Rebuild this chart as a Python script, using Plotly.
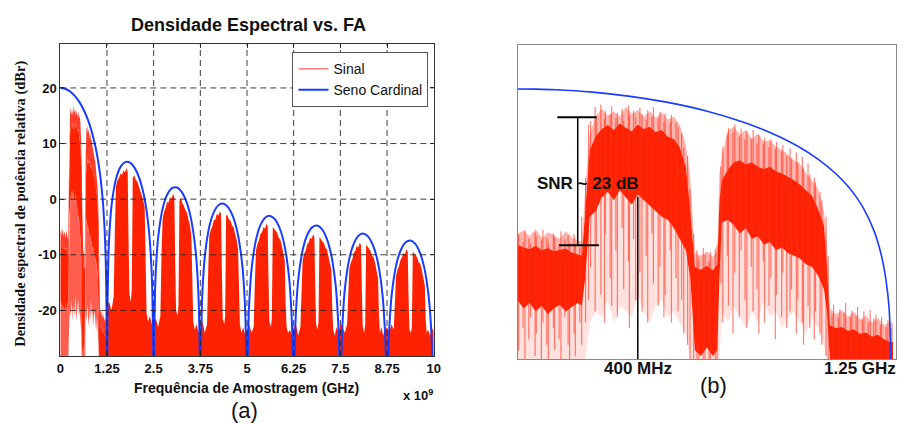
import plotly.graph_objects as go

# ---------------- DATA ----------------
# Zona 0 (0 - 1.25 GHz) of "Sinal", in dBr: envelope of spikes and dense core
zona0_freq_ghz = [0.00, 0.02, 0.04, 0.06, 0.08, 0.10, 0.12, 0.14, 0.16, 0.18, 0.20, 0.214,
                  0.225, 0.24,
                  0.26, 0.28, 0.30, 0.32, 0.34, 0.36, 0.38, 0.40, 0.42, 0.44, 0.46, 0.48, 0.50, 0.52, 0.54, 0.56,
                  0.575,
                  0.59, 0.61, 0.63, 0.65, 0.665,
                  0.672,
                  0.68, 0.70, 0.72, 0.74, 0.76, 0.78, 0.80, 0.82, 0.84, 0.86, 0.88, 0.90, 0.92, 0.94, 0.96, 0.98, 1.00, 1.02,
                  1.03,
                  1.04, 1.06, 1.08, 1.10, 1.12, 1.14, 1.16, 1.18, 1.20, 1.22, 1.24, 1.25]
zona0_pico_db = [-6.0, -5.5, -6.5, -5.2, -6.8, -5.8, -6.2, -7.0, -5.6, -6.6, -7.2, -7.5,
                 2.0, 12.0,
                 15.0, 16.5, 15.2, 16.0, 15.0, 16.8, 15.5, 16.2, 15.0, 16.0, 14.8, 15.8, 14.5, 15.0, 13.5, 10.0,
                 4.0,
                 -9.5, -10.0, -9.2, -10.2, -9.0,
                 5.0,
                 8.0, 12.5, 13.2, 11.8, 12.6, 11.0, 12.0, 10.5, 10.8, 9.6, 9.0, 8.2, 7.2, 6.5, 4.8, 3.6, 2.0, -2.0,
                 -8.0,
                 -19.5, -20.5, -19.8, -21.0, -20.0, -21.5, -20.8, -22.0, -21.2, -22.5, -22.0, -22.0]
zona0_nucleo_topo_db = [-8.0, -8.5, -8.8, -8.2, -9.0, -8.6, -9.2, -9.0, -8.7, -9.4, -9.8, -10.0,
                        -2.0, 9.0,
                        11.5, 12.8, 13.5, 12.6, 13.8, 13.0, 12.4, 13.6, 12.8, 13.2, 12.2, 12.6, 11.4, 11.0, 9.5, 6.0,
                        -2.0,
                        -12.0, -12.5, -11.8, -12.6, -11.5,
                        0.0,
                        3.5, 5.5, 6.8, 7.2, 6.4, 6.8, 6.0, 5.6, 6.0, 5.2, 4.8, 4.2, 3.6, 2.8, 1.8, 0.8, -1.5, -4.5,
                        -12.0,
                        -22.5, -23.0, -22.8, -23.5, -23.2, -24.0, -23.8, -24.5, -24.2, -25.0, -25.5, -25.5]
zona0_nucleo_base_db = [-18.0, -19.5, -18.5, -20.0, -19.0, -20.5, -19.5, -18.8, -20.0, -19.2, -18.5, -19.0,
                        -14.0, -3.0,
                        -2.0, 0.5, 1.5, 0.0, 1.8, 0.5, -0.8, 1.0, 0.0, -1.0, -2.0, -3.0, -3.5, -5.0, -7.0, -9.0,
                        -14.0,
                        -27.0, -28.0, -26.5, -28.0, -27.0,
                        -14.0,
                        -4.0, -3.5, -4.5, -6.0, -5.0, -7.0, -6.5, -8.0, -7.5, -9.0, -8.5, -9.5, -10.0, -10.5, -11.5, -12.0, -13.5, -16.0,
                        -20.0,
                        -29.0, -29.0, -29.0, -29.0, -29.0, -29.0, -29.0, -29.0, -29.0, -29.0, -29.0, -29.0]
zona0_vale_db = [-29.0, -29.0, -29.0, -29.0, -29.0, -29.0, -29.0, -29.0, -29.0, -29.0, -29.0, -29.0,
                 -29.0, -22.0,
                 -20.0, -21.0, -18.0, -22.0, -19.0, -20.0, -21.0, -17.0, -20.0, -22.0, -19.0, -18.0, -21.0, -20.0, -22.0, -24.0,
                 -29.0,
                 -29.0, -29.0, -29.0, -29.0, -29.0,
                 -29.0,
                 -20.0, -22.0, -19.0, -21.0, -23.0, -20.0, -22.0, -18.0, -21.0, -20.0, -23.0, -21.0, -20.0, -22.0, -24.0, -21.0, -23.0, -26.0,
                 -29.0,
                 -29.0, -29.0, -29.0, -29.0, -29.0, -29.0, -29.0, -29.0, -29.0, -29.0, -29.0, -29.0]

# Individual spikes of the zone-0 signal (panel b): frequency, spike top, spike bottom
espiculas_freq_ghz = [
    0.003, 0.018, 0.024, 0.037, 0.043, 0.058, 0.062, 0.079, 0.084, 0.097,
    0.102, 0.119, 0.123, 0.138, 0.144, 0.157, 0.168, 0.173, 0.188, 0.192,
    0.207, 0.213, 0.226, 0.236, 0.243, 0.258, 0.262, 0.277, 0.289, 0.292,
    0.308, 0.313, 0.327, 0.332, 0.348, 0.353, 0.369, 0.372, 0.386, 0.393,
    0.407, 0.414, 0.428, 0.433, 0.447, 0.452, 0.468, 0.474, 0.487, 0.491,
    0.508, 0.512, 0.527, 0.534, 0.546, 0.553, 0.566, 0.574, 0.586, 0.597,
    0.603, 0.618, 0.624, 0.637, 0.642, 0.658, 0.664, 0.677, 0.683, 0.698,
    0.702, 0.717, 0.723, 0.738, 0.744, 0.757, 0.763, 0.778, 0.784, 0.797,
    0.803, 0.818, 0.822, 0.837, 0.843, 0.858, 0.862, 0.879, 0.883, 0.896,
    0.907, 0.912, 0.928, 0.933, 0.948, 0.952, 0.967, 0.973, 0.988, 0.992,
    1.007, 1.013, 1.027, 1.034, 1.047, 1.052, 1.068, 1.073, 1.087, 1.092,
    1.108, 1.113, 1.127, 1.132, 1.148, 1.153, 1.167, 1.174, 1.186, 1.193,
    1.208, 1.212, 1.227, 1.233, 1.244]
espiculas_max_db = [
    -6.2, -7.5, -5.4, -6.9, -7.8, -5.8, -6.5, -7.2, -5.3, -6.8,
    -7.6, -6.0, -6.6, -7.9, -5.6, -7.0, -6.3, -7.7, -6.1, -8.0,
    -8.5, -3.0, 4.0, 13.5, 14.2, 16.8, 15.1, 17.2, 14.6, 16.0,
    15.4, 16.9, 14.8, 15.7, 16.4, 14.3, 17.0, 15.2, 16.1, 14.9,
    16.6, 15.5, 14.4, 16.2, 15.0, 16.7, 14.7, 15.9, 14.1, 15.6,
    13.9, 15.3, 14.0, 13.2, 12.0, 9.5, 8.0, 2.0, -6.0, -9.0,
    -10.5, -8.6, -9.8, -10.9, -9.3, -8.8, -8.0, 6.0, 9.5, 11.8,
    13.0, 12.2, 13.6, 11.4, 12.9, 10.8, 12.4, 11.0, 12.6, 10.2,
    11.7, 10.0, 11.2, 9.6, 10.9, 9.2, 10.4, 8.8, 9.9, 8.0,
    9.3, 7.4, 8.6, 6.8, 7.8, 5.9, 6.6, 4.6, 4.0, 3.2,
    1.5, 0.0, -3.0, -10.0, -20.5, -18.8, -21.2, -19.6, -20.2, -18.5,
    -21.0, -19.9, -20.8, -19.2, -21.5, -20.0, -22.0, -19.8, -21.3, -20.6,
    -22.4, -21.0, -22.8, -21.6, -23.0]
espiculas_min_db = [
    -27, -23, -29, -25, -21, -28, -24, -29, -22, -26,
    -29, -23, -27, -25, -29, -21, -26, -29, -24, -28,
    -22, -26, -22, -18, -12, -20, -8, -17, -22, -6,
    -14, -19, -9, -21, -5, -16, -11, -23, -7, -18,
    -13, -20, -10, -22, -6, -15, -19, -12, -21, -17,
    -9, -22, -14, -20, -18, -24, -26, -29, -29, -29,
    -29, -29, -29, -29, -29, -29, -29, -15, -22, -10,
    -19, -24, -13, -21, -9, -18, -23, -12, -20, -16,
    -24, -11, -22, -19, -14, -25, -17, -21, -13, -23,
    -20, -16, -24, -18, -22, -26, -19, -23, -25, -20,
    -24, -26, -28, -29, -29, -29, -29, -29, -29, -29,
    -29, -29, -29, -29, -29, -29, -29, -29, -29, -29,
    -29, -29, -29, -29, -29]

# Upper envelope of "Sinal" in Nyquist zones 1..7 (offsets in GHz from the zone start)
sinal_offsets_ghz = [0.0, 0.06, 0.12, 0.18, 0.21, 0.24, 0.28, 0.32, 0.36, 0.40, 0.44, 0.48, 0.52, 0.555,
                     0.575, 0.60, 0.64, 0.665, 0.69, 0.73, 0.77, 0.81, 0.85, 0.89, 0.93, 0.97, 1.01,
                     1.035, 1.06, 1.10, 1.15, 1.20]
sinal_lobo1_db = [-19.0, -18.5, -20.0, -17.5, -6.0, 2.3, 3.4, 3.8, 4.6, 4.3, 5.2, 4.8, 5.6, 4.9,
                  -6.0, -17.0, -18.5, -16.0, 3.8, 4.3, 3.5, 3.2, 2.4, 1.6, 0.8, -0.2, -1.5,
                  -12.0, -20.5, -22.0, -21.0, -22.5]
sinal_lobo2_db = [-22.0, -21.5, -23.0, -21.0, -10.0, -3.5, -2.2, -1.6, -0.5, -0.6, 0.4, 0.0, 1.0, 0.3,
                  -10.0, -20.0, -21.0, -19.0, -0.2, 0.3, -0.8, -1.2, -2.0, -2.4, -3.6, -4.6, -6.5,
                  -16.0, -22.0, -23.5, -22.5, -24.0]
sinal_lobo3_db = [-23.0, -22.0, -24.0, -22.5, -13.0, -6.6, -5.5, -4.9, -3.8, -3.7, -2.6, -3.0, -2.2, -2.6,
                  -12.0, -21.5, -22.5, -21.0, -2.8, -3.0, -3.7, -3.9, -4.8, -5.0, -6.2, -7.3, -9.0,
                  -18.0, -22.5, -24.0, -23.0, -24.5]
sinal_lobo4_db = [-23.5, -22.5, -24.0, -23.0, -15.0, -9.2, -8.0, -7.4, -6.2, -6.0, -5.0, -5.3, -4.4, -4.9,
                  -14.0, -22.0, -23.0, -21.5, -5.0, -5.3, -5.8, -6.1, -7.0, -7.2, -8.3, -9.4, -11.0,
                  -19.0, -23.0, -24.0, -23.5, -24.5]
sinal_lobo5_db = [-23.0, -22.5, -24.5, -23.0, -16.0, -11.0, -9.8, -9.3, -8.1, -7.8, -6.9, -7.2, -6.3, -6.8,
                  -15.0, -22.5, -23.5, -22.0, -6.8, -7.1, -7.6, -7.9, -8.8, -9.0, -10.1, -11.2, -12.8,
                  -20.0, -23.5, -24.5, -23.0, -24.0]
sinal_lobo6_db = [-22.5, -23.0, -24.0, -22.5, -17.0, -12.5, -11.4, -10.8, -9.6, -9.3, -8.4, -8.7, -7.8, -8.3,
                  -16.0, -23.0, -24.0, -22.5, -8.2, -8.5, -9.0, -9.3, -10.2, -10.4, -11.5, -12.6, -14.2,
                  -21.0, -24.0, -23.0, -24.5, -23.5]
sinal_lobo7_db = [-23.0, -24.0, -22.5, -23.5, -18.0, -13.8, -12.7, -12.0, -10.9, -10.5, -9.7, -9.9, -9.0, -9.5,
                  -17.0, -23.5, -24.0, -23.0, -9.4, -9.7, -10.2, -10.5, -11.4, -11.6, -12.7, -13.8, -15.4,
                  -21.5, -24.0, -23.5, -24.5, -23.0]
sinal_fim_db = -24.0

# "Seno Cardinal" curve (dBr): main lobe, then side lobes sampled at fixed offsets
seno0_freq_ghz = [0.0, 0.0625, 0.125, 0.25, 0.375, 0.5, 0.625, 0.75, 0.8125, 0.875, 0.9375,
                  1.0, 1.0625, 1.1, 1.125, 1.15, 1.1875, 1.2125, 1.225, 1.2375, 1.25]
seno0_db = [20.0, 19.96, 19.86, 19.42, 18.67, 17.58, 16.08, 14.06, 12.80, 11.31, 9.55,
            7.38, 4.61, 2.49, 0.77, -1.31, -5.61, -10.21, -13.81, -19.91, -60.0]
seno_offsets_ghz = [0.0125, 0.0375, 0.0625, 0.125, 0.25, 0.375, 0.5, 0.625, 0.75, 0.875,
                    1.0, 1.125, 1.1875, 1.2125, 1.2375, 1.25]
seno_lobos_db = [
    [-20.09, -10.73, -6.48, -0.97, 3.86, 5.94, 6.70, 6.54, 5.54, 3.61, 0.34, -5.72, -11.86, -16.36, -25.98, -60.0],
    [-26.07, -16.62, -12.29, -6.59, -1.41, 0.98, 2.02, 2.10, 1.32, -0.41, -3.50, -9.39, -15.45, -19.93, -29.51, -60.0],
    [-29.57, -20.10, -15.74, -9.97, -4.66, -2.15, -1.01, -0.82, -1.51, -3.15, -6.15, -11.96, -17.99, -22.45, -32.02, -60.0],
    [-32.06, -22.58, -18.21, -12.40, -7.02, -4.45, -3.25, -3.01, -3.63, -5.23, -8.18, -13.95, -19.95, -24.40, -33.96, -60.0],
    [-34.00, -24.50, -20.12, -14.29, -8.88, -6.27, -5.03, -4.75, -5.34, -6.90, -9.83, -15.56, -21.55, -25.99, -35.55, -60.0],
    [-35.58, -26.08, -21.69, -15.85, -10.41, -7.77, -6.50, -6.20, -6.77, -8.31, -11.21, -16.92, -22.90, -27.34, -36.89, -60.0],
    [-36.92, -27.41, -23.02, -17.17, -11.71, -9.05, -7.76, -7.44, -8.00, -9.51, -12.40, -18.10, -24.06, -28.50, -38.05, -60.0],
]

zona_largura_ghz = 1.25
x_ticks_ghz = [0, 1.25, 2.5, 3.75, 5, 6.25, 7.5, 8.75, 10]
x_tick_text = ["0", "1.25", "2.5", "3.75", "5", "6.25", "7.5", "8.75", "10"]
y_ticks_db = [-20, -10, 0, 10, 20]
y_tick_text = ["-20", "-10", "0", "10", "20"]

# SNR annotation values (panel b)
snr_freq_ghz = 0.20
snr_topo_db = 14.9
snr_base_db = -8.1
marca_400_ghz = 0.40
marca_400_topo_db = 0.6
BASE_DB = -30.0
Y2_RANGE = [-28.56, 27.9]

# ---------------- STYLE ----------------
RED = "#ff2200"
BLUE = "#1a3cff"
SANS = "Liberation Sans, Arial, sans-serif"
SERIF = "Liberation Serif, Times New Roman, serif"

fig = go.Figure()


def band(xa, ya, top, bottom, color):
    xs = zona0_freq_ghz + zona0_freq_ghz[::-1]
    fig.add_trace(go.Scatter(x=xs, y=top + bottom[::-1], fill="toself", fillcolor=color,
                             line=dict(width=0), mode="lines", showlegend=False,
                             hoverinfo="skip", xaxis=xa, yaxis=ya))


# ---- panel (a) ----
band("x", "y", zona0_pico_db, zona0_nucleo_topo_db, "rgba(255,40,20,0.9)")
band("x", "y", zona0_nucleo_base_db, zona0_vale_db, "rgba(255,40,20,0.75)")
band("x", "y", zona0_nucleo_topo_db, zona0_nucleo_base_db, RED)

lobos = [sinal_lobo1_db, sinal_lobo2_db, sinal_lobo3_db, sinal_lobo4_db,
         sinal_lobo5_db, sinal_lobo6_db, sinal_lobo7_db]
lx, ly = [], []
for k, vals in enumerate(lobos, start=1):
    for off, v in zip(sinal_offsets_ghz, vals):
        lx.append(k * zona_largura_ghz + off)
        ly.append(v)
lx.append(x_ticks_ghz[-1])
ly.append(sinal_fim_db)
fig.add_trace(go.Scatter(x=lx + [lx[-1], lx[0]], y=ly + [BASE_DB, BASE_DB], fill="toself",
                         fillcolor=RED, line=dict(width=0), mode="lines",
                         showlegend=False, hoverinfo="skip", xaxis="x", yaxis="y"))

sx, sy = list(seno0_freq_ghz), list(seno0_db)
for k, vals in enumerate(seno_lobos_db, start=1):
    for off, v in zip(seno_offsets_ghz, vals):
        sx.append(k * zona_largura_ghz + off)
        sy.append(v)

fig.add_trace(go.Scatter(x=[None], y=[None], mode="lines", name="Sinal",
                         line=dict(color="#ff7f7f", width=1.5), xaxis="x", yaxis="y"))
fig.add_trace(go.Scatter(x=sx, y=sy, mode="lines", name="Seno Cardinal",
                         line=dict(color=BLUE, width=2, shape="spline", smoothing=0.6),
                         xaxis="x", yaxis="y"))

# ---- panel (b) ----
band("x2", "y2", zona0_pico_db, zona0_nucleo_topo_db, "rgba(255,40,20,0.35)")
band("x2", "y2", zona0_nucleo_base_db, zona0_vale_db, "rgba(255,40,20,0.14)")
band("x2", "y2", zona0_nucleo_topo_db, zona0_nucleo_base_db, RED)
ex, ey = [], []
for f, hi, lo in zip(espiculas_freq_ghz, espiculas_max_db, espiculas_min_db):
    ex += [f, f, None]
    ey += [lo, hi, None]
fig.add_trace(go.Scatter(x=ex, y=ey, mode="lines", showlegend=False, hoverinfo="skip",
                         line=dict(color="rgba(255,45,25,0.6)", width=1.2),
                         xaxis="x2", yaxis="y2"))
fig.add_trace(go.Scatter(x=seno0_freq_ghz, y=seno0_db, mode="lines", showlegend=False,
                         line=dict(color=BLUE, width=1.6, shape="spline", smoothing=0.8),
                         xaxis="x2", yaxis="y2"))

# ---------------- LAYOUT ----------------
shapes = []
grid_line = dict(color="rgba(30,30,30,0.85)", width=1, dash="6px,4px")
for v in x_ticks_ghz[1:-1]:
    shapes.append(dict(type="line", xref="x", yref="y domain", x0=v, x1=v, y0=0, y1=1,
                       line=grid_line, layer="above"))
for v in y_ticks_db:
    shapes.append(dict(type="line", xref="x domain", yref="y", x0=0, x1=1, y0=v, y1=v,
                       line=grid_line, layer="above"))
blk = dict(color="black", width=2)
shapes += [
    dict(type="line", xref="x2", yref="y2", x0=snr_freq_ghz - 0.068, x1=snr_freq_ghz + 0.063,
         y0=snr_topo_db, y1=snr_topo_db, line=blk, layer="above"),
    dict(type="line", xref="x2", yref="y2", x0=snr_freq_ghz - 0.062, x1=snr_freq_ghz + 0.071,
         y0=snr_base_db, y1=snr_base_db, line=blk, layer="above"),
    dict(type="line", xref="x2", yref="y2", x0=snr_freq_ghz, x1=snr_freq_ghz,
         y0=snr_base_db, y1=snr_topo_db, line=dict(color="black", width=1.5), layer="above"),
    dict(type="line", xref="x2", yref="y2", x0=marca_400_ghz, x1=marca_400_ghz,
         y0=Y2_RANGE[0], y1=marca_400_topo_db, line=dict(color="black", width=1.5),
         layer="above"),
]


def note(text, x, y, size, family=SANS, xref="paper", yref="paper", angle=0):
    return dict(text=text, x=x, y=y, xref=xref, yref=yref, xanchor="center", yanchor="middle",
                textangle=angle, showarrow=False, font=dict(family=family, size=size, color="#111"))


annotations = [
    note("<b>Densidade Espectral vs. FA</b>", 0.273, 0.941, 18),
    note("<b>Densidade espectral de potência relativa (dBr)</b>", 0.0177, 0.5177, 14.5,
         family=SERIF, angle=-90),
    note("<b>Frequência de Amostragem (GHz)</b>", 0.2707, 0.0827, 14),
    note("<b>x 10<sup>9</sup></b>", 0.463, 0.066, 13),
    note("(a)", 0.2685, 0.0307, 22),
    note("<b>400 MHz</b>", marca_400_ghz, 0.1277, 17, xref="x2"),
    note("<b>1.25 GHz</b>", 0.958, 0.1277, 17),
    note("(b)", 0.7934, 0.0875, 22),
    note("<b>SNR ~ 23 dB</b>", 0.235, 3.0, 17, xref="x2", yref="y2"),
]

fig.update_layout(
    width=905, height=423, margin=dict(l=0, r=0, t=0, b=0),
    paper_bgcolor="white", plot_bgcolor="white",
    xaxis=dict(domain=[0.06298, 0.48066], range=[0, 10], tickvals=x_ticks_ghz,
               ticktext=[f"<b>{t}</b>" for t in x_tick_text], showgrid=False, zeroline=False,
               showline=True, mirror="ticks", linecolor="#333", linewidth=1, ticks="inside",
               ticklen=4, tickcolor="#333", tickfont=dict(family=SANS, size=13, color="#111"),
               anchor="y"),
    yaxis=dict(domain=[0.15839, 0.89598], range=[-28.2, 27.9], tickvals=y_ticks_db,
               ticktext=[f"<b>{t}</b>" for t in y_tick_text], showgrid=False, zeroline=False,
               showline=True, mirror="ticks", linecolor="#333", linewidth=1, ticks="inside",
               ticklen=4, tickcolor="#333", tickfont=dict(family=SANS, size=13, color="#111"),
               anchor="x"),
    xaxis2=dict(domain=[0.57459, 0.99779], range=[0, 1.26], showticklabels=False, ticks="",
                showgrid=False, zeroline=False, showline=True, mirror=True, linecolor="#888",
                linewidth=1, anchor="y2"),
    yaxis2=dict(domain=[0.1513, 0.8936], range=Y2_RANGE, showticklabels=False, ticks="",
                showgrid=False, zeroline=False, showline=True, mirror=True, linecolor="#888",
                linewidth=1, anchor="x2"),
    legend=dict(x=0.3227, y=0.877, xanchor="left", yanchor="top", bgcolor="white",
                bordercolor="#555", borderwidth=1, itemwidth=30,
                font=dict(family=SANS, size=14, color="#111"), tracegroupgap=0),
    shapes=shapes, annotations=annotations,
)

fig.write_html("out.html")
